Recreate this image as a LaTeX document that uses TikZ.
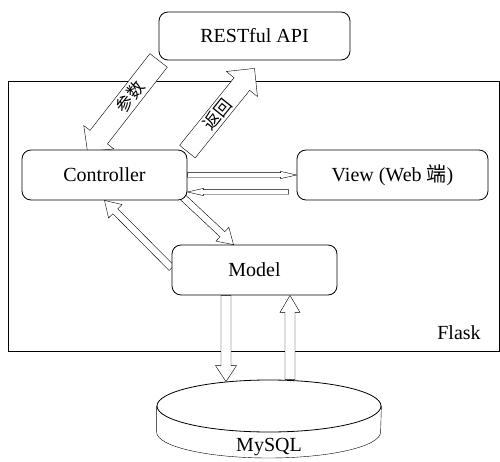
\documentclass[tikz,border=0pt]{standalone}
\usepackage{fontspec}
\setmainfont{Liberation Serif}
\newfontfamily\cjk{Noto Sans CJK SC}
\usetikzlibrary{calc,shapes.geometric,backgrounds}
\tikzset{
    box/.style={rectangle, rounded corners=9pt, draw, fill=white, inner sep=0pt, font=\fontsize{20}{24}\selectfont},
    plain/.style={font=\fontsize{20}{24}\selectfont},
    arrowtext/.style={sloped, font=\cjk\fontsize{17}{20}\selectfont},
    fatarrow/.style n args={3}{draw, fill=white, to path={let \p1=(\tikztostart), \p2=(\tikztotarget),
        \n1={atan2(\y2-\y1,\x2-\x1)}, \n2={veclen(\x2-\x1,\y2-\y1)-#3} in
        ($(\p1)+({\n1-90}:#1)$) -- ($(\p1)+(\n1:\n2)+({\n1-90}:#1)$)
        -- ($(\p1)+(\n1:\n2)+({\n1-90}:#2)$) -- (\p2)
        -- ($(\p1)+(\n1:\n2)+({\n1+90}:#2)$) -- ($(\p1)+(\n1:\n2)+({\n1+90}:#1)$)
        -- ($(\p1)+({\n1+90}:#1)$) -- cycle}},
}
\begin{document}
\begin{tikzpicture}[x=1pt, y=1pt, thick]
    \useasboundingbox (0,0) rectangle (500,461);
    % boxes
    \node[box, minimum width=191pt, minimum height=48pt] (rest) at (254.5,425) {RESTful API};
    \node[box, minimum width=165pt, minimum height=50pt] (ctrl) at (104.5,286) {Controller};
    \node[box, minimum width=191pt, minimum height=50pt] (view) at (392.5,286) {View (Web {\cjk 端})};
    \node[box, minimum width=165pt, minimum height=50pt] (model) at (254.5,191) {Model};
    \node[ellipse, draw, fill=white, minimum width=224pt, minimum height=52pt, inner sep=0pt] (db) at (269,55) {};
    \node[plain] (dbname) at (269,14) {MySQL};
    \node[plain] (flask) at (459,128) {Flask};

    \begin{pgfonlayer}{background}
        \draw (8,110) rectangle (499,380);
        \draw[fatarrow={11}{19}{18}] (rest.south west) to ([xshift=-17pt,yshift=-2pt]ctrl.north);
        \draw[fatarrow={10}{20}{20}] ([yshift=-2pt]ctrl.north east) to ([yshift=-8pt]rest.south);
        \draw[fatarrow={2.3}{3.6}{16}] (ctrl.east) to (view.west);
        \draw[fatarrow={2.3}{3.6}{16}] ([xshift=-8pt,yshift=-17pt]view.west) to ([yshift=-17pt]ctrl.east);
        \draw[fatarrow={3.5}{9.5}{15}] ([xshift=-6pt,yshift=4.5pt]ctrl.south east) to ([xshift=-21pt]model.north);
        \draw[fatarrow={3.5}{9.5}{15}] ([yshift=2pt]model.west) to (ctrl.south);
        \draw[fatarrow={5}{10.5}{16}] ([xshift=-28.5pt]model.south) to ([xshift=-43pt,yshift=-2pt]db.north);
        \draw[fatarrow={5}{10}{17}] ([xshift=21pt]db.north) to ([xshift=35.5pt]model.south);
        % database base
        \draw[fill=white] (db.west) -- ++(0,-26) arc[start angle=180, end angle=360, x radius=112, y radius=26] -- (db.east);
    \end{pgfonlayer}

    \path (rest.south west) -- node[arrowtext, pos=0.4] {参数} ([xshift=-17pt,yshift=-2pt]ctrl.north);
    \path ([yshift=-2pt]ctrl.north east) -- node[arrowtext, pos=0.45] {返回} ([yshift=-8pt]rest.south);
\end{tikzpicture}
\end{document}
